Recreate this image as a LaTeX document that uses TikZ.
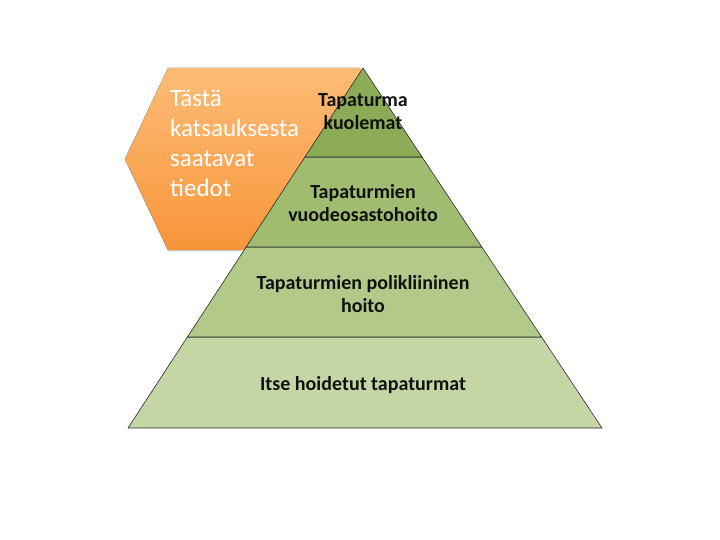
\documentclass[tikz,border=0pt]{standalone}
\usepackage{fontspec}
\setmainfont{Carlito}
\usepackage{tikz}
\usetikzlibrary{calc,positioning,shadows}
\definecolor{ink}{HTML}{111111}
\definecolor{edge}{HTML}{2B2B2B}
\definecolor{tierA}{HTML}{8CAB57}
\definecolor{tierB}{HTML}{A0BC70}
\definecolor{tierC}{HTML}{B2C989}
\definecolor{tierD}{HTML}{C5D6A5}
\definecolor{orangetop}{HTML}{FCBC76}
\definecolor{orangebot}{HTML}{F8953A}
\tikzset{
  tier/.style={draw=edge,line width=.6pt,line join=round},
  hexa/.style={top color=orangetop,bottom color=orangebot,draw=none,
    drop shadow={shadow xshift=0pt,shadow yshift=-2pt,opacity=.15}},
  tiertext/.style={font=\bfseries\fontsize{20}{23}\selectfont,text=ink,align=center},
  hextext/.style={font=\fontsize{25}{30}\selectfont,text=white,align=left,anchor=north west,inner sep=0pt},
}
\begin{document}
\begin{tikzpicture}[x=1pt,y=-1pt]
  \useasboundingbox (0,0) rectangle (720,540);
  % orange label hexagon, partly hidden by the pyramid
  \fill[hexa] (168,68) -- (360,68) -- (404,159) -- (360,250) -- (168,250) -- (125,159) -- cycle;
  \node[hextext] (info) at (170,90) {Tästä\\katsauksesta\\saatavat\\tiedot};
  % pyramid
  \coordinate (apex) at (363,68);
  \coordinate (bl) at (128,428);
  \coordinate (br) at (602,428);
  \foreach \t/\n in {.2472/a,.4972/b,.7472/c}{
    \coordinate (l\n) at ($(apex)!\t!(bl)$);
    \coordinate (r\n) at ($(apex)!\t!(br)$);
  }
  \filldraw[tier,fill=tierD] (lc) -- (rc) -- (br) -- (bl) -- cycle;
  \filldraw[tier,fill=tierC] (lb) -- (rb) -- (rc) -- (lc) -- cycle;
  \filldraw[tier,fill=tierB] (la) -- (ra) -- (rb) -- (lb) -- cycle;
  \filldraw[tier,fill=tierA] (apex) -- (ra) -- (la) -- cycle;
  % labels
  \node[tiertext] (deaths) at (363,112) {Tapaturma\\kuolemat};
  \node[tiertext] (ward) at (363,203) {Tapaturmien\\vuodeosastohoito};
  \node[tiertext] (clinic) at (363,294) {Tapaturmien polikliininen\\hoito};
  \node[tiertext] (self) at (363,385) {Itse hoidetut tapaturmat};
\end{tikzpicture}
\end{document}
